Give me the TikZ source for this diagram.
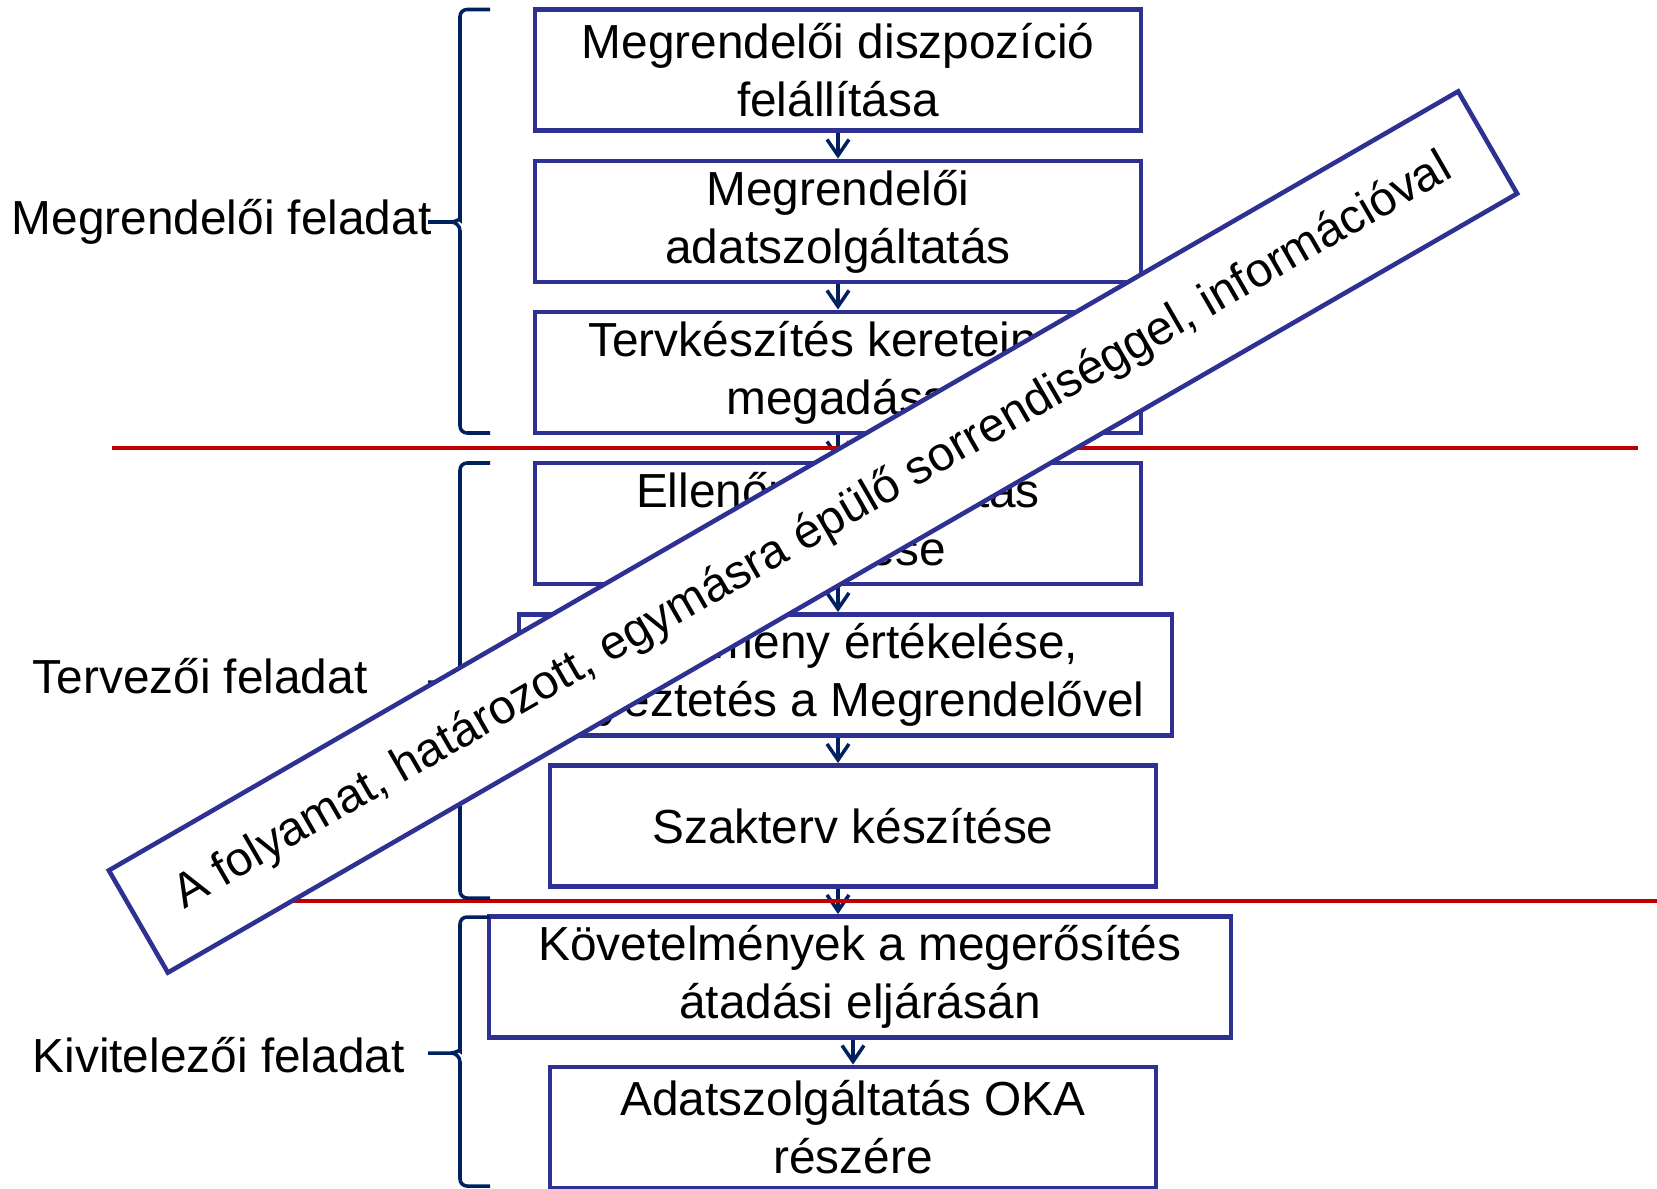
\documentclass[tikz,border=0pt]{standalone}
\usepackage{fontspec}
\setmainfont{Liberation Sans}
\usepackage{tikz}
\usetikzlibrary{positioning, calc}
\usetikzlibrary{arrows.meta}
\definecolor{boxblue}{RGB}{46,49,146}
\definecolor{navy}{RGB}{0,32,96}
\definecolor{redline}{RGB}{192,0,0}
\newcommand{\kapocs}[3]{
\draw[zarojel] (4.90,#1) [rounded corners=0.07cm] -- (4.60,#1) -- (4.60,#2+0.09) [sharp corners] to[out=-90,in=0] (4.51,#2) -- (4.28,#2)
    (4.51,#2) to[out=0,in=90] (4.60,#2-0.09) [rounded corners=0.07cm] -- (4.60,#3) -- (4.90,#3);
}

\begin{document}
\begin{tikzpicture}[
        font=\fontsize{13.6}{16.5}\selectfont,
        lepes/.style={draw=boxblue, line width=1.4pt, fill=white, align=center, minimum height=1.21cm, inner sep=0pt},
        nyil/.style={draw=navy, line width=1pt, -{Straight Barb[length=1.6mm,width=2.2mm]}},
        zarojel/.style={draw=navy, line width=1pt},
        hatar/.style={draw=redline, line width=1.3pt}
    ]
                \useasboundingbox (0,0) rectangle (16.57,11.88);
                \node[lepes, minimum width=6.06cm] (b1) at (8.38,11.18) {Megrendelői diszpozíció\\felállítása};
                \node[lepes, minimum width=6.06cm] (b2) at (8.38,9.665) {Megrendelői\\adatszolgáltatás};
                \node[lepes, minimum width=6.06cm] (b3) at (8.38,8.155) {Tervkészítés kereteinek\\megadása};
                \node[lepes, minimum width=6.06cm] (b4) at (8.38,6.645) {Ellenőrző számítás\\elvégzése};
                \node[lepes, minimum width=6.53cm] (b5) at (8.455,5.13) {Eredmény értékelése,\\egyeztetés a Megrendelővel};
                \node[lepes, minimum width=6.06cm] (b6) at (8.53,3.62) {Szakterv készítése};
                \node[lepes, minimum width=7.42cm] (b7) at (8.60,2.11) {Követelmények a megerősítés\\átadási eljárásán};
                \node[lepes, minimum width=6.06cm] (b8) at (8.53,0.605) {Adatszolgáltatás OKA\\részére};
                \draw[nyil] (b1.south) -- (b2.north);
                \draw[nyil] (b2.south) -- (b3.north);
                \draw[nyil] (b3.south) -- (b4.north);
                \draw[nyil] (b4.south) -- (b4.south |- b5.north);
                \draw[nyil] (b4.south |- b5.south) -- (b4.south |- b6.north);
                \draw[nyil] (b4.south |- b6.south) -- (b4.south |- b7.north);
                \draw[nyil] (b8.north |- b7.south) -- (b8.north);
                \draw[hatar] (1.12,7.40) -- (16.38,7.40);
                \draw[hatar] (2.00,2.87) -- (16.57,2.87);
                \kapocs{11.785}{9.66}{7.55}
                \kapocs{7.25}{5.06}{2.90}
                \kapocs{2.71}{1.35}{0.02}
                \node[anchor=west, inner sep=0pt] (megrendelo) at (0.11,9.66) {Megrendelői feladat};
                \node[anchor=west, inner sep=0pt] (tervezo) at (0.32,5.12) {Tervezői feladat};
                \node[anchor=west, inner sep=0pt] (kivitelezo) at (0.32,1.33) {Kivitelezői feladat};
                \node[draw=boxblue, line width=1.3pt, fill=white, rotate=30, minimum width=15.58cm, minimum height=1.18cm, inner sep=0pt] (szalag) at (8.13,6.56) {A folyamat, határozott, egymásra épülő sorrendiséggel, információval};
            \end{tikzpicture}
\end{document}
